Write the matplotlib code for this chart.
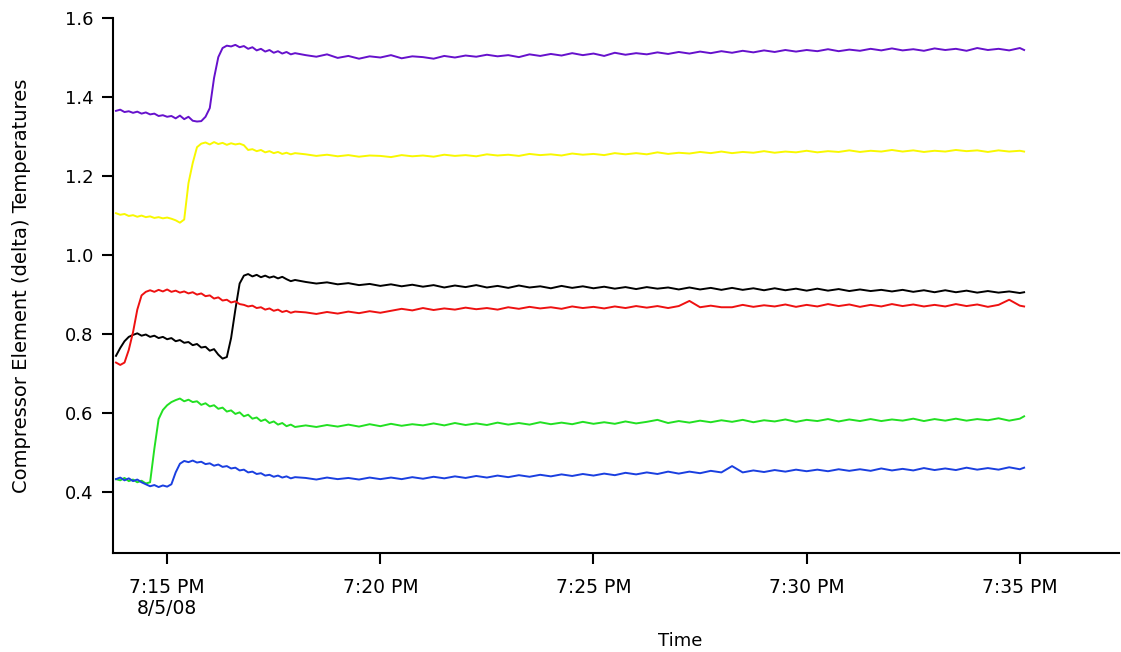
import numpy as np
import matplotlib
matplotlib.use("Agg")
import matplotlib.pyplot as plt

# sample times, minutes after 7:00 PM
t_fine = np.round(np.arange(13.8, 18.05, 0.1), 2)          # 13.8 .. 18.0
t_coarse = np.round(np.arange(18.25, 35.01, 0.25), 2)      # 18.25 .. 35.0
t_min = np.concatenate([t_fine, t_coarse, [35.1]])

purple = [
    1.365, 1.368, 1.362, 1.364, 1.360, 1.363, 1.358, 1.361, 1.356, 1.358,
    1.352, 1.354, 1.350, 1.352, 1.346, 1.353, 1.344, 1.350, 1.340, 1.338,
    1.339, 1.350, 1.372, 1.448, 1.501, 1.524, 1.530, 1.528, 1.532, 1.526,
    1.529, 1.522, 1.526, 1.518, 1.522, 1.515, 1.519, 1.512, 1.516, 1.510,
    1.514, 1.508, 1.511,
    1.506, 1.502, 1.508, 1.499,
    1.504, 1.497, 1.503, 1.500,
    1.506, 1.498, 1.503, 1.501,
    1.497, 1.504, 1.500, 1.505,
    1.502, 1.507, 1.503, 1.506,
    1.501, 1.508, 1.504, 1.509,
    1.505, 1.511, 1.506, 1.510,
    1.504, 1.512, 1.507, 1.511,
    1.508, 1.513, 1.509, 1.514,
    1.510, 1.515, 1.511, 1.516,
    1.512, 1.517, 1.513, 1.518,
    1.514, 1.519, 1.515, 1.519,
    1.516, 1.521, 1.516, 1.520,
    1.517, 1.522, 1.518, 1.523,
    1.518, 1.521, 1.517, 1.523,
    1.519, 1.522, 1.517, 1.524,
    1.519, 1.522, 1.518, 1.524,
    1.519,
]

yellow = [
    1.106, 1.102, 1.104, 1.099, 1.101, 1.097, 1.100, 1.096, 1.098, 1.094,
    1.096, 1.093, 1.095, 1.092, 1.088, 1.082, 1.090, 1.182, 1.233, 1.273,
    1.282, 1.285, 1.280, 1.286, 1.281, 1.284, 1.279, 1.283, 1.280, 1.282,
    1.278, 1.266, 1.268, 1.263, 1.266, 1.260, 1.263, 1.258, 1.261, 1.256,
    1.259, 1.255, 1.258,
    1.255, 1.251, 1.254, 1.250,
    1.253, 1.249, 1.252, 1.251,
    1.248, 1.253, 1.250, 1.252,
    1.249, 1.254, 1.251, 1.253,
    1.250, 1.255, 1.252, 1.254,
    1.251, 1.256, 1.253, 1.255,
    1.252, 1.257, 1.254, 1.256,
    1.253, 1.258, 1.255, 1.258,
    1.255, 1.260, 1.256, 1.259,
    1.257, 1.261, 1.258, 1.262,
    1.258, 1.261, 1.259, 1.263,
    1.259, 1.262, 1.260, 1.264,
    1.260, 1.263, 1.261, 1.265,
    1.261, 1.264, 1.262, 1.266,
    1.262, 1.265, 1.261, 1.264,
    1.262, 1.266, 1.263, 1.265,
    1.261, 1.265, 1.262, 1.264,
    1.262,
]

black = [
    0.745, 0.765, 0.782, 0.793, 0.798, 0.802, 0.796, 0.799, 0.793, 0.796,
    0.790, 0.793, 0.787, 0.790, 0.782, 0.785, 0.778, 0.780, 0.772, 0.775,
    0.766, 0.768, 0.758, 0.762, 0.748, 0.738, 0.742, 0.790, 0.862, 0.928,
    0.948, 0.952, 0.946, 0.950, 0.944, 0.948, 0.943, 0.946, 0.941, 0.945,
    0.939, 0.934, 0.937,
    0.932, 0.928, 0.931, 0.926,
    0.929, 0.924, 0.927, 0.922,
    0.926, 0.921, 0.925, 0.920,
    0.924, 0.918, 0.923, 0.919,
    0.924, 0.918, 0.922, 0.917,
    0.923, 0.918, 0.921, 0.916,
    0.922, 0.917, 0.921, 0.916,
    0.920, 0.915, 0.919, 0.914,
    0.919, 0.915, 0.918, 0.913,
    0.918, 0.913, 0.917, 0.912,
    0.917, 0.912, 0.916, 0.911,
    0.916, 0.911, 0.915, 0.910,
    0.915, 0.910, 0.914, 0.909,
    0.913, 0.909, 0.912, 0.908,
    0.912, 0.907, 0.911, 0.906,
    0.911, 0.906, 0.910, 0.905,
    0.909, 0.905, 0.908, 0.904,
    0.906,
]

red = [
    0.728, 0.722, 0.728, 0.760, 0.805, 0.862, 0.898, 0.907, 0.911, 0.907,
    0.912, 0.908, 0.913, 0.907, 0.910, 0.905, 0.908, 0.903, 0.906, 0.900,
    0.903, 0.896, 0.898, 0.890, 0.893, 0.885, 0.887, 0.880, 0.883, 0.876,
    0.874, 0.870, 0.872, 0.866, 0.868, 0.862, 0.865, 0.859, 0.862, 0.856,
    0.859, 0.854, 0.857,
    0.855, 0.851, 0.856, 0.852,
    0.857, 0.853, 0.858, 0.854,
    0.859, 0.864, 0.860, 0.866,
    0.861, 0.865, 0.862, 0.867,
    0.863, 0.866, 0.862, 0.868,
    0.864, 0.869, 0.865, 0.868,
    0.864, 0.870, 0.866, 0.869,
    0.865, 0.870, 0.866, 0.871,
    0.867, 0.871, 0.866, 0.871,
    0.884, 0.868, 0.872, 0.868,
    0.868, 0.874, 0.869, 0.873,
    0.870, 0.875, 0.869, 0.874,
    0.870, 0.876, 0.871, 0.875,
    0.869, 0.874, 0.870, 0.876,
    0.871, 0.875, 0.870, 0.874,
    0.870, 0.876, 0.871, 0.875,
    0.869, 0.874, 0.887, 0.872,
    0.870,
]

green = [
    0.433, 0.430, 0.436, 0.428, 0.432, 0.425, 0.429, 0.422, 0.425, 0.510,
    0.585, 0.608, 0.620, 0.628, 0.633, 0.637, 0.630, 0.634, 0.628, 0.630,
    0.621, 0.625, 0.617, 0.620, 0.611, 0.614, 0.604, 0.607, 0.598, 0.602,
    0.592, 0.596, 0.586, 0.589, 0.580, 0.584, 0.575, 0.579, 0.571, 0.575,
    0.567, 0.571, 0.565,
    0.569, 0.565, 0.570, 0.566,
    0.571, 0.566, 0.572, 0.567,
    0.573, 0.568, 0.572, 0.569,
    0.574, 0.569, 0.575, 0.570,
    0.574, 0.570, 0.576, 0.571,
    0.575, 0.571, 0.577, 0.572,
    0.576, 0.572, 0.578, 0.573,
    0.577, 0.573, 0.579, 0.574,
    0.578, 0.583, 0.575, 0.580,
    0.576, 0.581, 0.577, 0.582,
    0.578, 0.583, 0.577, 0.582,
    0.579, 0.584, 0.578, 0.583,
    0.580, 0.585, 0.579, 0.584,
    0.580, 0.585, 0.580, 0.584,
    0.581, 0.586, 0.580, 0.585,
    0.581, 0.586, 0.581, 0.585,
    0.582, 0.587, 0.581, 0.586,
    0.592,
]

blue = [
    0.433, 0.437, 0.430, 0.435, 0.428, 0.432, 0.425, 0.420, 0.415, 0.418,
    0.413, 0.417, 0.414, 0.420, 0.450, 0.472, 0.479, 0.476, 0.480, 0.475,
    0.477, 0.471, 0.473, 0.467, 0.470, 0.464, 0.466, 0.460, 0.462, 0.455,
    0.457, 0.450, 0.452, 0.446, 0.448, 0.442, 0.444, 0.439, 0.442, 0.437,
    0.440, 0.435, 0.438,
    0.436, 0.432, 0.437, 0.433,
    0.436, 0.432, 0.437, 0.433,
    0.437, 0.433, 0.438, 0.434,
    0.439, 0.435, 0.440, 0.436,
    0.441, 0.437, 0.442, 0.438,
    0.443, 0.439, 0.444, 0.440,
    0.445, 0.441, 0.446, 0.442,
    0.447, 0.443, 0.449, 0.445,
    0.450, 0.446, 0.452, 0.447,
    0.452, 0.448, 0.454, 0.450,
    0.466, 0.450, 0.455, 0.451,
    0.456, 0.452, 0.457, 0.453,
    0.457, 0.453, 0.458, 0.454,
    0.458, 0.454, 0.460, 0.455,
    0.459, 0.455, 0.461, 0.456,
    0.460, 0.456, 0.462, 0.457,
    0.461, 0.457, 0.463, 0.458,
    0.462,
]

series = [
    (purple, "#6611cc"),
    (yellow, "#f8f800"),
    (black, "#000000"),
    (red, "#ee1111"),
    (green, "#22e022"),
    (blue, "#1a3fe0"),
]

tick_min = [15, 20, 25, 30, 35]
tick_labels = ["7:15 PM\n8/5/08", "7:20 PM", "7:25 PM", "7:30 PM", "7:35 PM"]


def main() -> None:
    fig = plt.figure(figsize=(11.21, 6.52), dpi=100)
    ax = fig.add_axes([0.1008, 0.1518, 0.8972, 0.8206])

    for vals, col in series:
        assert len(vals) == len(t_min)
        ax.plot(t_min, vals, color=col, linewidth=1.4)

    ax.set_xlim(13.73, 37.32)
    ax.set_ylim(0.246, 1.6)
    ax.set_yticks([0.4, 0.6, 0.8, 1.0, 1.2, 1.4, 1.6])
    ax.set_yticklabels(["0.4", "0.6", "0.8", "1.0", "1.2", "1.4", "1.6"])
    ax.set_xticks(tick_min)
    ax.set_xticklabels(tick_labels, linespacing=1.1)

    for side in ("top", "right"):
        ax.spines[side].set_visible(False)
    for side in ("left", "bottom"):
        ax.spines[side].set_linewidth(1.5)

    ax.tick_params(axis="y", length=8, width=1.5, pad=6, labelsize=13)
    ax.tick_params(axis="x", length=8, width=1.5, pad=10, labelsize=13.5)

    ax.set_ylabel("Compressor Element (delta) Temperatures", fontsize=14)
    ax.yaxis.set_label_coords(-0.082, 0.5)
    ax.set_xlabel("Time", fontsize=13)
    ax.xaxis.set_label_coords(0.564, -0.148)

    fig.savefig("out.png", dpi=100)


if __name__ == "__main__":
    main()
